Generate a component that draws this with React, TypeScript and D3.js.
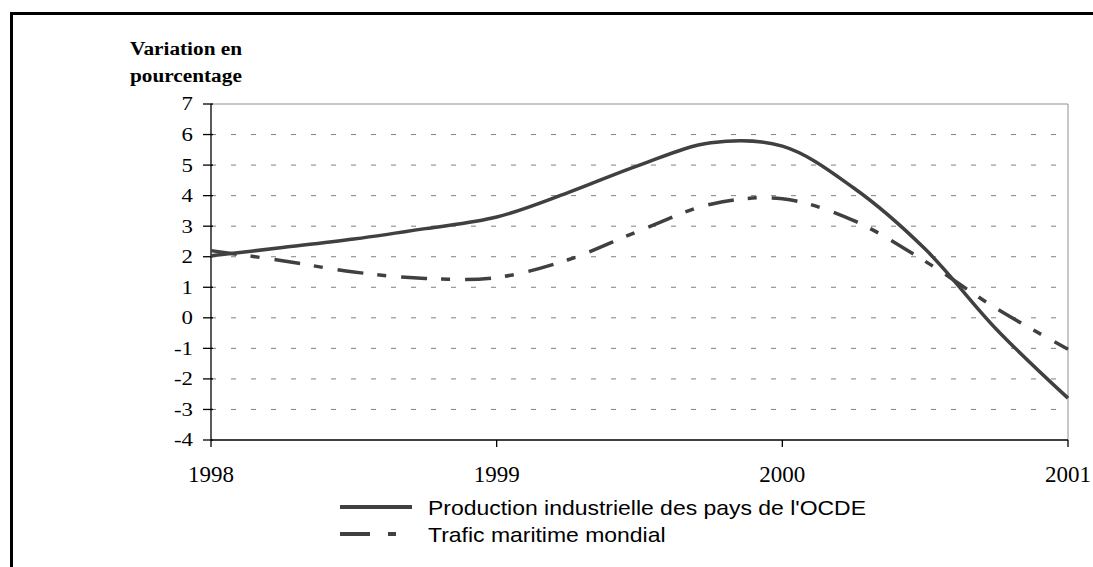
import { useEffect, useRef } from 'react';
import * as d3 from 'd3';

// Trimestres (1998 T1 ... 2001 T1)
const periods = [1998, 1998.25, 1998.5, 1998.75, 1999, 1999.25, 1999.5, 1999.75, 2000, 2000.25, 2000.5, 2000.75, 2001];
const production = [2.03, 2.3, 2.58, 2.92, 3.3, 4.1, 5.0, 5.73, 5.62, 4.25, 2.25, -0.38, -2.63];
const trafic = [2.2, 1.87, 1.5, 1.29, 1.32, 1.9, 2.85, 3.72, 3.9, 3.18, 1.85, 0.3, -1.03];
const yTicks = [7, 6, 5, 4, 3, 2, 1, 0, -1, -2, -3, -4];
const xTicks = [1998, 1999, 2000, 2001];
const legendLabels = ["Production industrielle des pays de l'OCDE", 'Trafic maritime mondial'];

export default function App() {
  const svgRef = useRef<SVGSVGElement>(null);

  useEffect(() => {
    if (!svgRef.current) return;
    const svg = d3.select(svgRef.current);
    svg.selectAll('*').remove();

    const W = 1093;
    const H = 567;
    const lineColor = '#404040';
    const serif = '"Liberation Serif", "Times New Roman", serif';

    const x = d3.scaleLinear().domain([1998, 2001]).range([211, 1068]);
    const y = d3.scaleLinear().domain([-4, 7]).range([440, 104]);

    svg.append('rect').attr('width', W).attr('height', H).attr('fill', '#fff');

    // cadre extérieur
    svg.append('path')
      .attr('d', `M11.5,${H} V13.5 H${W}`)
      .attr('fill', 'none')
      .attr('stroke', '#000')
      .attr('stroke-width', 3);

    // grille horizontale
    svg.selectAll('.grid')
      .data(yTicks.filter(d => d > -4 && d < 7))
      .enter()
      .append('line')
      .attr('x1', x(1998))
      .attr('x2', x(2001))
      .attr('y1', d => y(d))
      .attr('y2', d => y(d))
      .attr('stroke', '#808080')
      .attr('stroke-width', 1)
      .attr('stroke-dasharray', '5,15');

    // bord haut et droit en gris
    svg.append('path')
      .attr('d', `M${x(1998)},${y(7)} H${x(2001)} V${y(-4)}`)
      .attr('fill', 'none')
      .attr('stroke', '#909090')
      .attr('stroke-width', 1);

    // axe Y
    svg.append('line')
      .attr('x1', x(1998)).attr('x2', x(1998))
      .attr('y1', y(7)).attr('y2', y(-4))
      .attr('stroke', '#000').attr('stroke-width', 1.3);
    svg.selectAll('.ytick')
      .data(yTicks)
      .enter()
      .append('line')
      .attr('x1', x(1998) - 8).attr('x2', x(1998) + 2)
      .attr('y1', d => y(d)).attr('y2', d => y(d))
      .attr('stroke', '#000').attr('stroke-width', 1.3);
    svg.selectAll('.ylabel')
      .data(yTicks)
      .enter()
      .append('text')
      .attr('transform', d => `translate(193,${y(d)}) scale(1.2,1)`)
      .attr('dy', '0.34em')
      .attr('text-anchor', 'end')
      .style('font-family', serif)
      .style('font-size', '19px')
      .text(d => String(d));

    // axe X
    svg.append('line')
      .attr('x1', x(1998)).attr('x2', x(2001))
      .attr('y1', y(-4)).attr('y2', y(-4))
      .attr('stroke', '#000').attr('stroke-width', 1.3);
    svg.selectAll('.xtick')
      .data(xTicks)
      .enter()
      .append('line')
      .attr('x1', d => x(d)).attr('x2', d => x(d))
      .attr('y1', y(-4)).attr('y2', y(-4) + 7)
      .attr('stroke', '#000').attr('stroke-width', 1.3);
    svg.selectAll('.xlabel')
      .data(xTicks)
      .enter()
      .append('text')
      .attr('x', d => x(d))
      .attr('y', 482)
      .attr('text-anchor', 'middle')
      .style('font-family', serif)
      .style('font-size', '23px')
      .text(d => String(d));

    // titre de l'axe
    const title = svg.append('text')
      .attr('transform', 'translate(130,0) scale(1.12,1)')
      .style('font-family', serif)
      .style('font-size', '19px')
      .style('font-weight', 'bold');
    title.append('tspan').attr('x', 0).attr('y', 55).text('Variation en');
    title.append('tspan').attr('x', 0).attr('y', 82).text('pourcentage');

    // courbes
    const line = d3.line<number>()
      .x((_, i) => x(periods[i]))
      .y(d => y(d))
      .curve(d3.curveCatmullRom.alpha(0.5));

    svg.append('path')
      .datum(trafic)
      .attr('d', line)
      .attr('fill', 'none')
      .attr('stroke', lineColor)
      .attr('stroke-width', 3.5)
      .attr('stroke-dasharray', '26,14,9,15');

    svg.append('path')
      .datum(production)
      .attr('d', line)
      .attr('fill', 'none')
      .attr('stroke', lineColor)
      .attr('stroke-width', 3.5);

    // légende
    const legendY = [507, 534];
    const dashes = ['none', '30,18,8,18'];
    legendLabels.forEach((label, i) => {
      svg.append('line')
        .attr('x1', 340).attr('x2', 412)
        .attr('y1', legendY[i]).attr('y2', legendY[i])
        .attr('stroke', lineColor)
        .attr('stroke-width', 4)
        .attr('stroke-dasharray', dashes[i]);
      svg.append('text')
        .attr('transform', `translate(428,${legendY[i] + 1}) scale(1.12,1)`)
        .attr('dy', '0.36em')
        .style('font-family', '"Liberation Sans", Arial, sans-serif')
        .style('font-size', '20.5px')
        .text(label);
    });
  }, []);

  return (
    <svg
      ref={svgRef}
      width={1093}
      height={567}
      style={{ position: 'absolute', left: 0, top: 0, display: 'block' }}
    />
  );
}
